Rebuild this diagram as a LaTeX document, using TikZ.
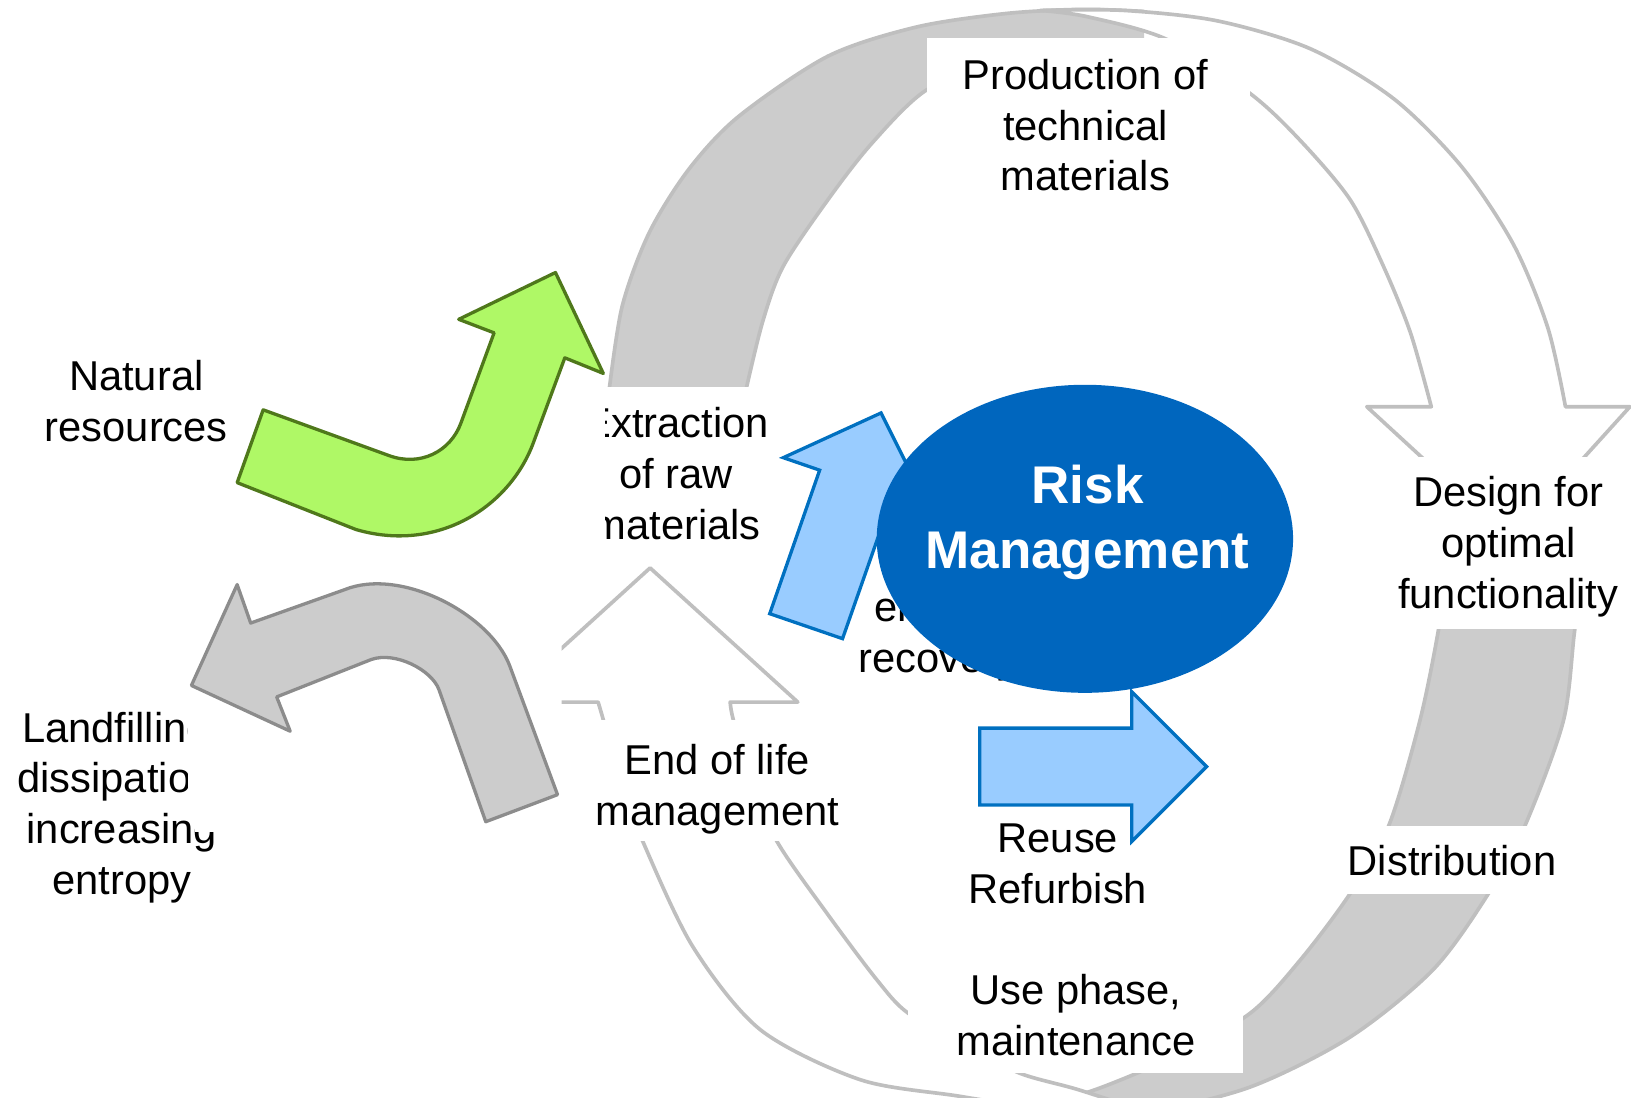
\documentclass[tikz,border=0pt]{standalone}
\usepackage{fontspec}
\setmainfont{Liberation Sans}
\usetikzlibrary{shapes.geometric}
\definecolor{ringfill}{RGB}{204,204,204}
\definecolor{ringline}{RGB}{191,191,191}
\definecolor{natfill}{RGB}{175,248,102}
\definecolor{natline}{RGB}{79,120,27}
\definecolor{landline}{RGB}{140,140,140}
\definecolor{bluefill}{RGB}{153,204,255}
\definecolor{blueline}{RGB}{0,112,192}
\definecolor{riskblue}{RGB}{0,102,190}
\tikzset{
  ring/.style={fill=ringfill,draw=ringline,line width=1pt,line join=round},
  ringedge/.style={draw=ringline,line width=1pt},
  ringwhite/.style={fill=white,draw=ringline,line width=1pt,line join=round},
  lbl/.style={align=center,inner sep=0pt,font=\fontsize{11.4}{13.9}\selectfont},
  bluearrow/.style={fill=bluefill,draw=blueline,line width=0.9pt},
}
\begin{document}
\begin{tikzpicture}[x=0.01cm,y=-0.01cm]
\useasboundingbox (0,0) rectangle (1568,1055);
\clip (0,0) rectangle (1568,1055);

\fill[ringfill] plot[smooth] coordinates {(716,380) (733,310) (753,256) (796,192) (838,138) (890,87) (960,58) (1040,44) (1100,40)}
  -- plot[smooth] coordinates {(1100,11) (1040,9) (967,13) (881,26) (796,54) (710,112) (662,163) (624,224) (598,295) (585,380)} -- cycle;
\draw[ringedge] plot[smooth] coordinates {(716,380) (733,310) (753,256) (796,192) (838,138) (890,87) (960,58) (1040,44) (1100,40)};
\draw[ringedge] plot[smooth] coordinates {(1100,11) (1040,9) (967,13) (881,26) (796,54) (710,112) (662,163) (624,224) (598,295) (585,380)};
\filldraw[ring] plot[smooth] coordinates {(1395,470) (1392,540) (1383,605) (1365,693) (1335,794) (1298,859) (1250,923) (1202,974) (1130,1015) (1060,1045) (990,1068)}
  -- plot[smooth] coordinates {(1000,1080) (1100,1070) (1202,1045) (1298,997) (1378,932) (1431,859) (1466,794) (1503,693) (1514,605) (1525,540) (1528,470)} -- cycle;
\filldraw[ringwhite] plot[smooth] coordinates {(1000,10) (1045,16) (1122,38) (1202,90) (1250,135) (1298,192) (1330,256) (1356,320) (1376,391)}
  -- (1314,391) -- (1452,518) -- (1567,391) -- (1505,391)
  -- plot[smooth] coordinates {(1505,391) (1488,315) (1455,235) (1405,160) (1340,95) (1260,47) (1170,20) (1080,10) (1000,10)} -- cycle;
\begin{scope}
\clip (540,0) rectangle (1568,1055);
\filldraw[ringwhite] plot[smooth] coordinates {(1120,1075) (1038,1048) (981,1032) (930,1006) (873,974) (843,942) (795,878) (747,809) (722,750) (705,692) (702,675)}
  -- (767,675) -- (625,546) -- (483,675) -- (575,675)
  -- plot[smooth] coordinates {(575,675) (580,692) (596,750) (618,809) (666,910) (731,990) (827,1038) (923,1054) (1020,1070)} -- cycle;
\end{scope}

\fill[white] (891,37) rectangle (1202,200);
\fill[white] (1330,439) rectangle (1568,605);
\fill[white] (1285,794) rectangle (1505,859);
\fill[white] (873,915) rectangle (1195,1032);
\fill[white] (545,692) rectangle (810,809);
\fill[white] (582,372) rectangle (748,530);

\filldraw[fill=natfill,draw=natline,line width=0.9pt,line join=round] (253,394) -- (374,438) .. controls (404,449) and (433,434) .. (443,407) -- (475,320) -- (441,307) -- (534,262) -- (580,359) -- (543,344) -- (513,425) .. controls (490,488) and (420,532) .. (342,509) -- (228,464) -- cycle;
\filldraw[fill=ringfill,draw=landline,line width=0.9pt,line join=round] (536,764) -- (490,640) .. controls (471,590) and (385,545) .. (331,567) -- (241,599) -- (228,562) -- (184,659) -- (279,703) -- (266,670) -- (357,634) .. controls (380,626) and (415,644) .. (422,663) -- (467,790) -- cycle;

\node[lbl] (natural) at (131,386) {Natural\\resources};
\begin{scope}
\clip (0,640) -- (180,640) -- (180,770) -- (187,770) -- (187,800) -- (260,800) -- (260,900) -- (0,900) -- cycle;
\node[lbl] (landfill) at (117,776.4) {Landfilling,\\dissipation,\\increasing\\entropy};
\end{scope}
\begin{scope}
\clip (582,372) rectangle (760,540);
\node[lbl] (extract) at (650,455.4) {Extraction\\of raw\\materials};
\end{scope}
\node[lbl] (prod) at (1043.5,120.4) {Production of\\technical\\materials};
\node[lbl] (design) at (1450,525.6) {Design for\\optimal\\functionality};
\node[lbl] (distrib) at (1396,827.5) {Distribution};
\node[lbl] (usephase) at (1034.5,976) {Use phase,\\maintenance};
\node[lbl] (endlife) at (689.6,759) {End of life\\management};
\node[lbl] (reuse) at (1017,830.5) {Reuse\\Refurbish};
\node[lbl] (energy) at (902,615) {energy\\recovery};

\filldraw[bluearrow] (740,590) -- (788,452) -- (753,440) -- (847,397) -- (893,489) -- (858,477) -- (810,614) -- cycle;
\filldraw[bluearrow] (942,700) -- (1088,700) -- (1088,665) -- (1160,737) -- (1088,809) -- (1088,774) -- (942,774) -- cycle;

\node[ellipse,fill=riskblue,minimum width=4cm,minimum height=2.96cm,inner sep=0pt] (risk) at (1043,518) {};
\node[lbl,font=\fontsize{14.5}{17.75}\selectfont\bfseries,text=white] (risklbl) at (1045.5,502) {Risk\\Management};
\end{tikzpicture}
\end{document}
